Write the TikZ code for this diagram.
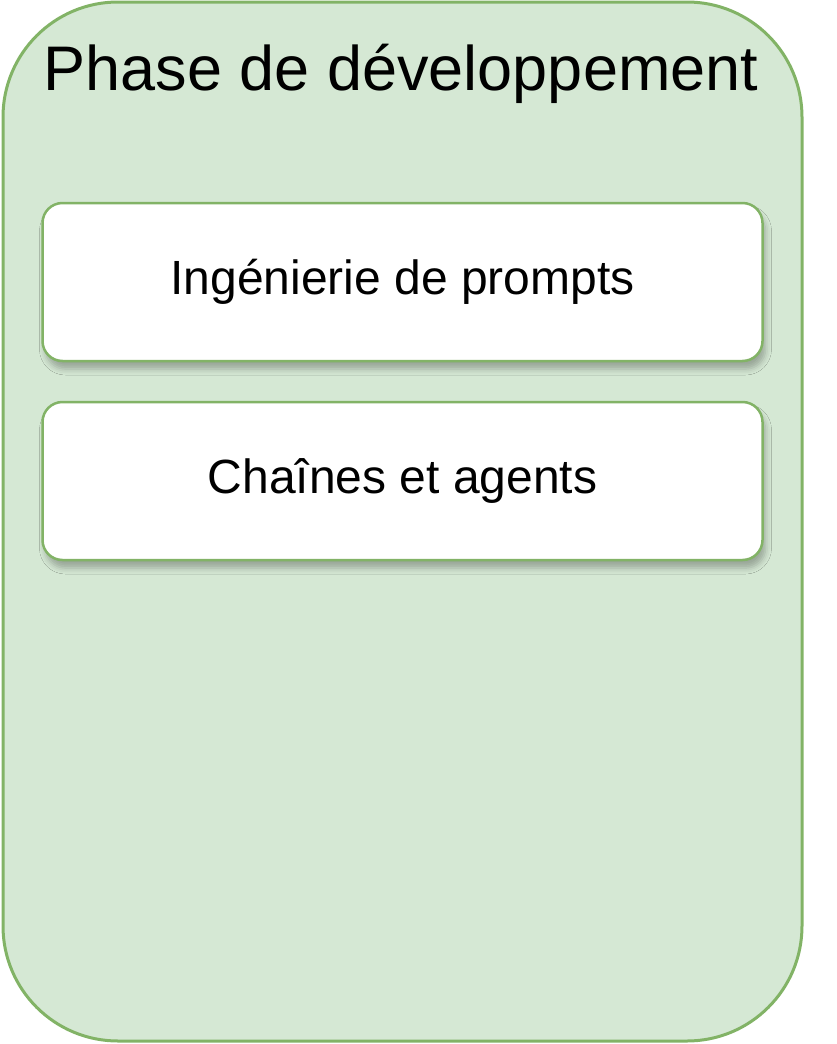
\documentclass[tikz,border=0pt]{standalone}
\usepackage{fontspec}
\setmainfont{Liberation Sans}
\usetikzlibrary{shadows.blur}
\definecolor{phasefill}{HTML}{D5E8D4}
\definecolor{phaseline}{HTML}{82B366}
\begin{document}
\begin{tikzpicture}[x=1pt,y=-1pt,
  phase/.style={draw=phaseline,fill=phasefill,line width=3pt,rounded corners=115pt},
  taskbox/.style={draw=phaseline,fill=white,line width=2.5pt,rounded corners=20pt,
    minimum width=720pt,minimum height=158pt,font=\fontsize{48}{54}\selectfont,
    blur shadow={shadow xshift=3pt,shadow yshift=-8pt,shadow blur radius=6pt,shadow opacity=28}}]
  \useasboundingbox (0,0) rectangle (836,1044);
  \draw[phase] (3,2) rectangle (802,1041);

  \node[font=\fontsize{63}{70}\selectfont,anchor=base] (title) at (401,90) {Phase de développement};
  \node[taskbox] (prompts) at (402.5,282) {Ingénierie de prompts};
  \node[taskbox] (chains) at (402.5,481) {Chaînes et agents};
\end{tikzpicture}
\end{document}
